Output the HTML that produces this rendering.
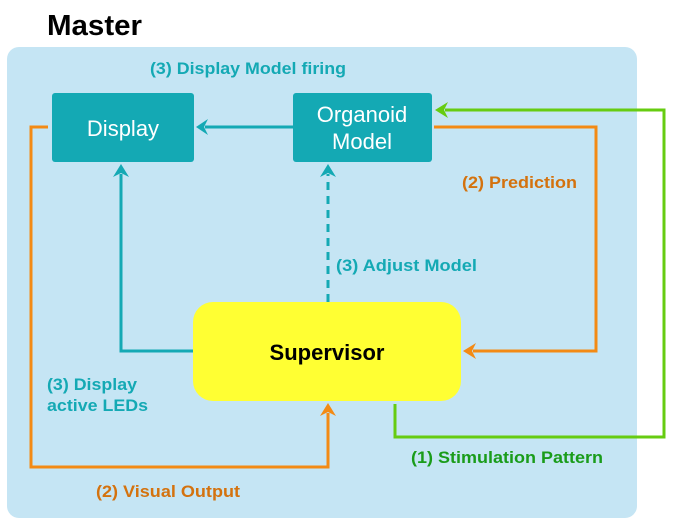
<!DOCTYPE html>
<html><head><style>
body{margin:0;width:681px;height:525px;background:#fff;overflow:hidden;font-family:"Liberation Sans",Arial,sans-serif}
</style></head><body>
<svg width="681" height="525" xmlns="http://www.w3.org/2000/svg" font-family="Liberation Sans, Arial, sans-serif">
<text x="47" y="35" font-size="29" font-weight="bold" fill="#000" textLength="95" lengthAdjust="spacingAndGlyphs">Master</text>
<rect x="7" y="47" width="630" height="471" rx="12" fill="#c5e5f4"/>
<rect x="52" y="93" width="142" height="69" rx="3" fill="#14a9b4"/>
<text x="123" y="136" font-size="22" fill="#fff" text-anchor="middle">Display</text>
<rect x="293" y="93" width="139" height="69" rx="3" fill="#14a9b4"/>
<text x="362" y="122" font-size="22" fill="#fff" text-anchor="middle">Organoid</text>
<text x="362" y="149" font-size="22" fill="#fff" text-anchor="middle">Model</text>
<rect x="193" y="302" width="268" height="99" rx="20" fill="#ffff33"/>
<text x="327" y="360" font-size="22" font-weight="bold" fill="#000" text-anchor="middle">Supervisor</text>
<g fill="none" stroke-width="3">
<path d="M293 127H205" stroke="#14a9b4"/>
<path d="M193 351H121V174" stroke="#14a9b4"/>
<path d="M328 302V174" stroke="#14a9b4" stroke-dasharray="8,6"/>
<path d="M434 127H596V351H473" stroke="#f38a14"/>
<path d="M48 127H31V467H328V413" stroke="#f38a14"/>
<path d="M395 404V437H664V110H445" stroke="#66cc11"/>
</g>
<path d="M196 127l12-8-4 8 4 8z" fill="#14a9b4"/>
<path d="M121 164l-8 13 8-4 8 4z" fill="#14a9b4"/>
<path d="M328 164l-8 13 8-4 8 4z" fill="#14a9b4"/>
<path d="M463 351l13-8-4 8 4 8z" fill="#f38a14"/>
<path d="M328 403l-8 13 8-4 8 4z" fill="#f38a14"/>
<path d="M435 110l13-8-4 8 4 8z" fill="#66cc11"/>
<g font-size="17" font-weight="bold">
<text x="150" y="74" fill="#14a9b4" textLength="196" lengthAdjust="spacingAndGlyphs">(3) Display Model firing</text>
<text x="462" y="188" fill="#d4720e" textLength="115" lengthAdjust="spacingAndGlyphs">(2) Prediction</text>
<text x="336" y="271" fill="#14a9b4" textLength="141" lengthAdjust="spacingAndGlyphs">(3) Adjust Model</text>
<text x="47" y="390" fill="#14a9b4" textLength="90" lengthAdjust="spacingAndGlyphs">(3) Display</text>
<text x="47" y="411" fill="#14a9b4" textLength="101" lengthAdjust="spacingAndGlyphs">active LEDs</text>
<text x="411" y="463" fill="#1a9c1a" textLength="192" lengthAdjust="spacingAndGlyphs">(1) Stimulation Pattern</text>
<text x="96" y="497" fill="#d4720e" textLength="144" lengthAdjust="spacingAndGlyphs">(2) Visual Output</text>
</g>
</svg>
</body></html>
